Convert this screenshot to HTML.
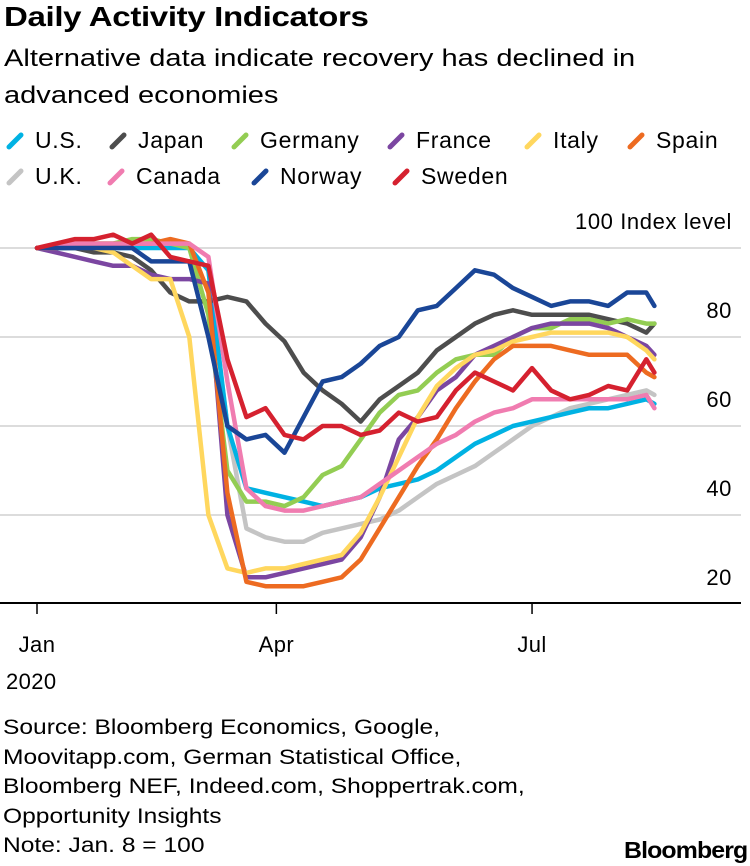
<!DOCTYPE html>
<html><head><meta charset="utf-8"><style>
body{margin:0;background:#fff;font-family:"Liberation Sans",sans-serif;color:#000}
#wrap{position:relative;width:750px;height:866px;overflow:hidden}
.t{position:absolute;white-space:nowrap;transform-origin:0 0}
</style></head><body>
<div id="wrap">
<div class="t" style="left:4px;top:1px;font-size:28px;font-weight:bold;letter-spacing:-0.3px;transform:scaleX(1.18)">Daily Activity Indicators</div>
<div class="t" style="left:4px;top:40px;font-size:24px;line-height:37px;transform:scaleX(1.21)">Alternative data indicate recovery has declined in<br>advanced economies</div>
<svg id="chart" width="750" height="866" style="position:absolute;left:0;top:0"></svg>
<div class="t" style="left:3px;top:713px;font-size:21px;line-height:29.6px;transform:scaleX(1.17)">Source: Bloomberg Economics, Google,<br>Moovitapp.com, German Statistical Office,<br>Bloomberg NEF, Indeed.com, Shoppertrak.com,<br>Opportunity Insights<br>Note: Jan. 8 = 100</div>
<div class="t" style="left:624px;top:837px;font-size:23px;font-weight:bold;letter-spacing:-0.8px;transform:scaleX(1.08)">Bloomberg</div>
</div>
<script>
const days=[0,7,14,21,28,35,42,49,56,63,70,77,84,91,98,105,112,119,126,133,140,147,154,161,168,175,182,189,196,203,210,217,224,227];
const seriesNames=["U.K.","U.S.","Japan","Germany","France","Italy","Spain","Canada","Norway","Sweden"];
const colors=["#c4c4c4","#00b2e3","#4d4d4d","#93cd53","#7b46a1","#ffd75e","#ed6b21","#f07cb0","#1a4697","#d5212f"];
const ukVals=[100,100,101,101,101,101,101,101,100,95,60,37,35,34,34,36,37,38,39,41,44,47,49,51,54,57,60,62,64,65,66,67,68,67];
const usVals=[100,100,100,100,100,100,100,100,100,95,60,46,45,44,43,42,43,44,46,47,48,50,53,56,58,60,61,62,63,64,64,65,66,65];
const japanVals=[100,100,100,99,99,98,95,90,88,88,89,88,83,79,72,68,65,61,66,69,72,77,80,83,85,86,85,85,85,85,84,83,81,83];
const germanyVals=[100,100,101,101,101,102,102,101,100,85,50,43,43,42,44,49,51,57,63,67,68,72,75,76,76,80,82,82,84,84,83,84,83,83];
const franceVals=[100,99,98,97,96,96,94,93,93,92,40,26,26,27,28,29,30,35,44,57,62,68,71,76,78,80,82,83,83,83,82,80,78,76];
const italyVals=[100,100,101,100,99,96,93,93,80,40,28,27,28,28,29,30,31,36,44,53,62,69,73,76,77,79,80,81,81,81,81,80,77,75];
const spainVals=[100,100,101,101,101,101,101,102,101,90,45,25,24,24,24,25,26,30,37,44,51,57,64,70,75,78,78,78,77,76,76,76,72,71];
const canadaVals=[100,100,101,101,101,101,101,101,101,98,70,46,42,41,41,42,43,44,47,50,53,56,58,61,63,64,66,66,66,66,66,66,67,64];
const norwayVals=[100,100,100,100,100,100,97,97,97,80,60,57,58,54,62,70,71,74,78,80,86,87,91,95,94,91,89,87,88,88,87,90,90,87];
const swedenVals=[100,101,102,102,103,101,103,98,97,96,75,62,64,58,57,60,60,58,59,63,61,62,68,72,70,68,73,68,66,67,69,68,75,72];
const allVals=[ukVals,usVals,japanVals,germanyVals,franceVals,italyVals,spainVals,canadaVals,norwayVals,swedenVals];
const yTicks=[100,80,60,40,20];
const xTickDays=[0,88,182];
const xTickLabels=["Jan","Apr","Jul"];

const NS="http://www.w3.org/2000/svg";
const svg=document.getElementById('chart');
function xs(d){return 37+d*2.72;}
function ys(v){return 248+(100-v)*4.45;}
function mk(tag,attrs){const e=document.createElementNS(NS,tag);for(const k in attrs)e.setAttribute(k,attrs[k]);svg.appendChild(e);return e;}
const F='Liberation Sans, sans-serif';

yTicks.forEach((t,i)=>{
  if(t>20){const g=mk('line',{x1:0,x2:741,y1:ys(t),y2:ys(t),stroke:'#dcdcdc','stroke-width':2});
  
  }
  const lb=mk('text',{x:732,y:ys(t)-19,'text-anchor':'end','font-size':22,'letter-spacing':0.6,'font-family':F});
  lb.textContent=(i===0?t+' Index level':String(t));
  
  
});
const ax=mk('line',{x1:0,x2:741,y1:603,y2:603,stroke:'#000','stroke-width':2});


xTickDays.forEach((d,i)=>{
  const tk=mk('line',{x1:xs(d),x2:xs(d),y1:603,y2:614,stroke:'#000','stroke-width':1.5});
  
  
  const lb=mk('text',{x:xs(d),y:652,'text-anchor':'middle','font-size':22,'letter-spacing':0.4,'font-family':F});
  lb.textContent=xTickLabels[i];
  
  
});
const yr=mk('text',{x:6,y:689,'font-size':22,'letter-spacing':0.4,'font-family':F});
yr.textContent='2020';



allVals.forEach((vals,si)=>{
  const pts=vals.map((v,i)=>xs(days[i]).toFixed(1)+','+ys(v).toFixed(1)).join(' ');
  const p=mk('polyline',{points:pts,fill:'none',stroke:colors[si],'stroke-width':4.5,'stroke-linejoin':'round','stroke-linecap':'round'});
  
  
});

const legendOrder=[1,2,3,4,5,6,0,7,8,9];
const legendX=[5,108,230,386,523,626,5,106,250,391];
const legendY=[140,140,140,140,140,140,176,176,176,176];
legendOrder.forEach((si,i)=>{
  const x=legendX[i],y=legendY[i];
  const ic=mk('line',{x1:x+4,y1:y+7,x2:x+16,y2:y-5,stroke:colors[si],'stroke-width':5,'stroke-linecap':'round'});
  
  
  const tx=mk('text',{x:x+30,y:y+8,'font-size':23,'letter-spacing':0.7,'font-family':F});
  tx.textContent=seriesNames[si];
  
  
});
</script>
</body></html>
